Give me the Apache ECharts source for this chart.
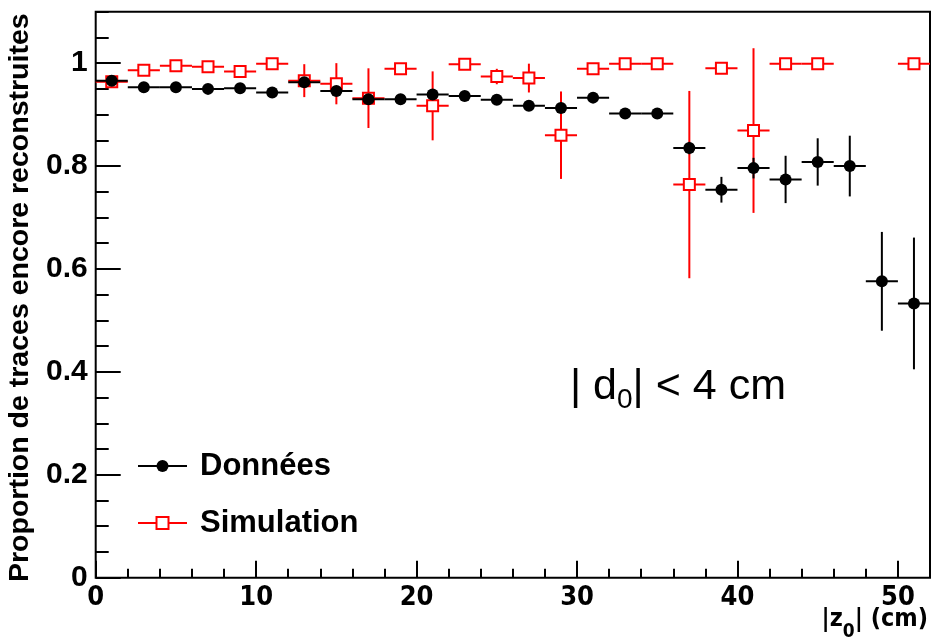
<!DOCTYPE html>
<html>
<head>
<meta charset="utf-8">
<script src="https://cdn.jsdelivr.net/npm/echarts@6/dist/echarts.min.js"></script>
<style>html,body{margin:0;padding:0;background:#fff}#c{width:932px;height:644px}</style>
</head>
<body>
<div id="c"></div>
<script>
// |z0| bin centres (cm) and half bin width
const binCenters = [1,3,5,7,9,11,13,15,17,19,21,23,25,27,29,31,33,35,37,39,41,43,45,47,49,51];
const binHalfWidth = 1;
// Données
const donneesVals = [0.966,0.953,0.953,0.950,0.951,0.943,0.963,0.946,0.930,0.930,0.939,0.936,0.929,0.917,0.913,0.933,0.902,0.902,0.835,0.754,0.796,0.774,0.808,0.800,0.576,0.533];
const donneesErr  = [0.004,0.004,0.004,0.004,0.004,0.004,0.005,0.006,0.006,0.006,0.007,0.007,0.007,0.008,0.008,0.008,0.008,0.008,0.012,0.025,0.020,0.046,0.046,0.059,0.096,0.128];
// Simulation
const simVals = [0.964,0.986,0.995,0.993,0.984,0.999,0.966,0.960,0.932,0.989,0.917,0.998,0.974,0.971,0.860,0.989,0.999,0.999,0.764,0.990,0.869,0.999,0.999,null,null,0.999];
const simErr  = [0.005,0.005,0.005,0.005,0.008,0.003,0.032,0.040,0.058,0.008,0.067,0.003,0.015,0.028,0.085,0.008,0.002,0.002,0.182,0.008,0.160,0.002,0.002,null,null,0.002];
// axis ticks
const xTickInterval = 10, xMinorInterval = 2, xMax = 52;
const yTickInterval = 0.2, yMinorInterval = 0.05, yMax = 1.1;

const pts = (vals, errs) => binCenters.map((x,i)=> vals[i]==null ? null : [x, vals[i], errs[i]]).filter(d=>d);
const donneesPts = pts(donneesVals, donneesErr);
const simPts = pts(simVals, simErr);

function errRender(color){
  return function(params, api){
    const x = api.value(0), y = api.value(1), e = api.value(2);
    const l = api.coord([x-binHalfWidth, y]), r = api.coord([x+binHalfWidth, y]);
    const t = api.coord([x, y+e]), b = api.coord([x, y-e]);
    return {type:'group', children:[
      {type:'line', shape:{x1:l[0],y1:l[1],x2:r[0],y2:r[1]}, style:{stroke:color, lineWidth:2}},
      {type:'line', shape:{x1:t[0],y1:t[1],x2:b[0],y2:b[1]}, style:{stroke:color, lineWidth:2}}
    ]};
  };
}

const boldFont = "'Liberation Sans', Arial, sans-serif";
const narrowFont = "'Liberation Sans Narrow', 'DejaVu Sans Condensed', 'Liberation Sans', sans-serif";

const chart = echarts.init(document.getElementById('c'), null, {renderer:'canvas'});
chart.setOption({
  animation:false,
  backgroundColor:'#fff',
  grid:{left:95.7, right:2, top:11.7, bottom:66.3, containLabel:false, outerBoundsMode:'none',
        show:true, borderColor:'#000', borderWidth:2, backgroundColor:'transparent'},
  xAxis:[
    {type:'value', min:0, max:xMax, interval:xTickInterval, position:'bottom',
     axisLine:{show:false}, splitLine:{show:false},
     axisTick:{show:true, inside:true, length:17, lineStyle:{color:'#000', width:2}},
     axisLabel:{showMaxLabel:false, color:'#000', fontFamily:narrowFont, fontWeight:'bold', fontSize:27, margin:7}
    },
    {type:'value', min:0, max:xMax, interval:xMinorInterval, position:'bottom',
     axisLine:{show:false}, splitLine:{show:false}, axisLabel:{show:false},
     axisTick:{show:true, inside:true, length:9, lineStyle:{color:'#000', width:2}}}
  ],
  yAxis:[
    {type:'value', min:0, max:yMax, interval:yTickInterval, position:'left',
     axisLine:{show:false}, splitLine:{show:false},
     axisTick:{show:true, inside:true, length:25, lineStyle:{color:'#000', width:2}},
     axisLabel:{showMaxLabel:false, color:'#000', fontFamily:boldFont, fontWeight:'bold', fontSize:30, margin:8},
     name:'Proportion de traces encore reconstruites', nameLocation:'middle', nameGap:53,
     nameTextStyle:{color:'#000', fontFamily:boldFont, fontWeight:'bold', fontSize:28.5, padding:[0,6,0,0]}
    },
    {type:'value', min:0, max:yMax, interval:yMinorInterval, position:'left',
     axisLine:{show:false}, splitLine:{show:false}, axisLabel:{show:false},
     axisTick:{show:true, inside:true, length:13, lineStyle:{color:'#000', width:2}}}
  ],
  legend:{
    orient:'vertical', left:137, top:449, padding:0, itemGap:23, itemWidth:49, itemHeight:15,
    data:['Données','Simulation'],
    lineStyle:{opacity:1, width:2},
    textStyle:{color:'#000', fontFamily:boldFont, fontWeight:'bold', fontSize:31, lineHeight:34, padding:[0,0,0,8]},
    selectedMode:false
  },
  series:[
    {type:'custom', name:'simErr', xAxisIndex:0, yAxisIndex:0, z:2, renderItem:errRender('#ff0000'), data:simPts, silent:true},
    {type:'line', name:'Simulation', xAxisIndex:0, yAxisIndex:0, z:3, data:simPts.map(d=>[d[0],d[1]]),
     symbol:'rect', symbolSize:11, showAllSymbol:true, color:'#ff0000',
     itemStyle:{color:'#fff', borderColor:'#ff0000', borderWidth:2},
     lineStyle:{color:'#ff0000', width:2, opacity:0}, emphasis:{disabled:true}, silent:true},
    {type:'custom', name:'donErr', xAxisIndex:0, yAxisIndex:0, z:4, renderItem:errRender('#000'), data:donneesPts, silent:true},
    {type:'line', name:'Données', xAxisIndex:0, yAxisIndex:0, z:5, data:donneesPts.map(d=>[d[0],d[1]]),
     symbol:'circle', symbolSize:12, showAllSymbol:true, color:'#000',
     itemStyle:{color:'#000'},
     lineStyle:{color:'#000', width:2, opacity:0}, emphasis:{disabled:true}, silent:true}
  ],
  graphic:[
    {type:'text', left:570, top:366, silent:true,
     style:{text:'{m|| d}{s|0}{m|| < 4 cm}',
       rich:{m:{fontFamily:"'Liberation Sans', Arial, sans-serif", fontSize:43, color:'#000', lineHeight:48, verticalAlign:'top'},
             s:{fontFamily:"'Liberation Sans', Arial, sans-serif", fontSize:28, color:'#000', lineHeight:28, verticalAlign:'top', padding:[20,0,0,0]}}}},
    {type:'text', right:4, top:607, silent:true,
     style:{text:'{t||z}{s|0}{t|| (cm)}',
       rich:{t:{fontFamily:narrowFont, fontWeight:'bold', fontSize:25, color:'#000', lineHeight:32, verticalAlign:'top'},
             s:{fontFamily:narrowFont, fontWeight:'bold', fontSize:19, color:'#000', lineHeight:22, verticalAlign:'top', padding:[16,0,0,0]}}}}
  ]
});
</script>
</body>
</html>
